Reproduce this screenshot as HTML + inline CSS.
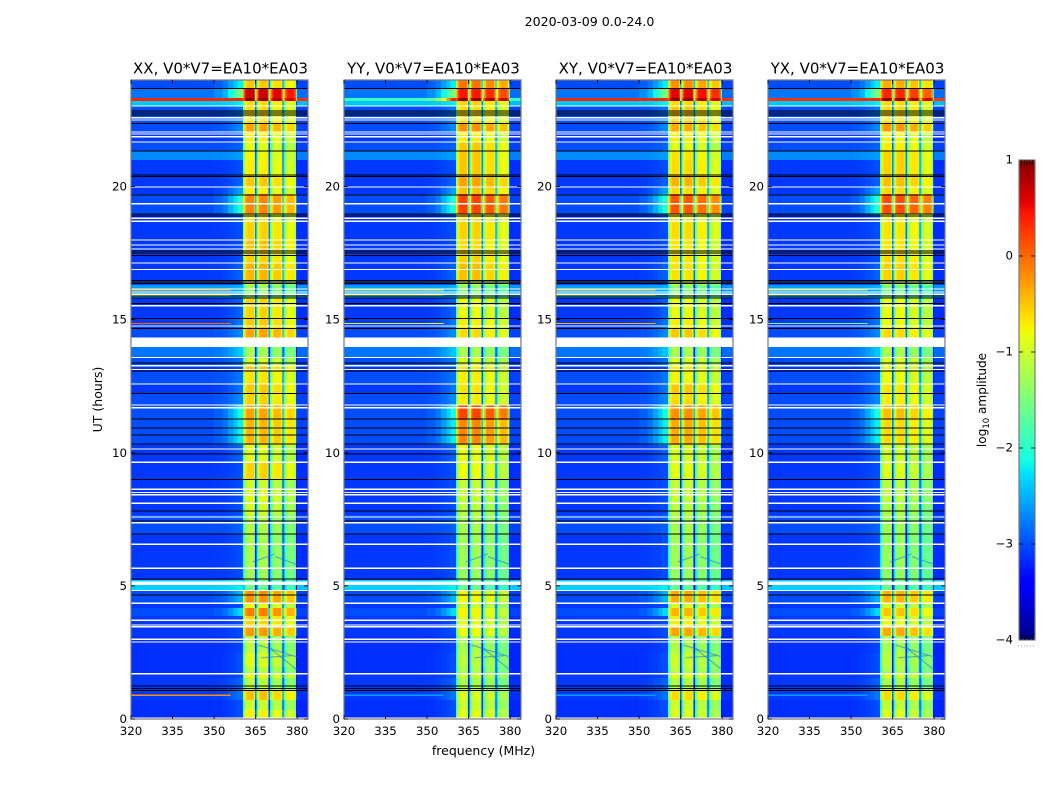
<!DOCTYPE html>
<html lang="en">
<head>
<meta charset="utf-8">
<title>2020-03-09 amplitude waterfall</title>
<style>
html,body{margin:0;padding:0;background:#fff;width:1050px;height:800px;overflow:hidden}
svg{display:block}
text{font-family:"DejaVu Sans","Liberation Sans",sans-serif;fill:#000}
</style>
</head>
<body>
<svg id="chart" xmlns="http://www.w3.org/2000/svg" width="1050" height="800" viewBox="0 0 1050 800">
<text x="589.5" y="26" font-size="12.6" text-anchor="middle">2020-03-09 0.0-24.0</text>
<text x="483.5" y="755" font-size="12.5" text-anchor="middle">frequency (MHz)</text>
<text transform="translate(102,399.5) rotate(-90)" font-size="12.5" text-anchor="middle">UT (hours)</text>
<text transform="translate(986,400) rotate(-90)" font-size="12.1" text-anchor="middle">log<tspan font-size="8.5" dy="3">10</tspan><tspan dy="-3"> amplitude</tspan></text>
</svg>
<script>
// ---------- data ----------
const panelTitles = ["XX, V0*V7=EA10*EA03","YY, V0*V7=EA10*EA03","XY, V0*V7=EA10*EA03","YX, V0*V7=EA10*EA03"];
const xTickValues = [320,335,350,365,380];
const yTickValues = [0,5,10,15,20];
const colorbarTickValues = [1,0,-1,-2,-3,-4];

// UT band edges (hours), top to bottom
const bandEdgesUT = [24,23.66,23.32,23.21,23.02,22.39,22.05,21.67,21.33,21.0,20.43,19.98,19.72,18.97,18.67,17.99,17.62,17.13,16.49,16.30,15.81,15.06,14.65,14.32,13.97,13.60,13.30,13.03,12.58,12.21,11.79,11.23,10.29,9.65,8.98,8.60,8.23,7.66,6.95,5.67,5.22,4.85,4.36,4.17,3.87,3.46,3.12,2.48,1.95,1.73,1.54,1.09,0.71,0.34,0];
// log10 amplitude outside the passband, per band
const offBandLevel = [-3.0,-2.8,0.35,-2.4,-3.0,-3.0,-3.1,-3.0,-2.7,-3.1,-3.1,-3.1,-3.0,-3.1,-3.1,-3.1,-3.1,-3.1,-3.0,-2.6,-3.1,-3.1,-3.0,-3.0,-2.8,-3.0,-3.1,-3.0,-3.1,-3.0,-3.0,-3.0,-3.1,-3.1,-3.1,-3.1,-3.1,-3.0,-3.1,-3.1,-2.35,-3.0,-3.1,-3.0,-3.1,-3.1,-3.15,-3.15,-3.15,-3.1,-3.1,-3.1,-3.15,-3.15];
// off-band level of the bright row near 23.3 h, per polarisation
const brightRowOffBand = [0.35,-1.9,0.35,0.3];
// log10 amplitude just below the passband edge, per band
const shoulderLevel = [-2.2,-1.5,0.35,-2.2,-2.8,-2.7,-3.0,-2.9,-2.6,-3.0,-2.9,-2.6,-2.0,-2.9,-3.0,-3.0,-3.0,-2.9,-3.0,-2.5,-2.9,-2.8,-2.7,-2.7,-2.4,-2.8,-3.0,-2.8,-2.8,-2.7,-2.1,-2.2,-2.9,-3.0,-3.0,-3.0,-3.0,-2.9,-3.0,-3.0,-2.2,-2.5,-3.0,-2.3,-3.0,-3.0,-3.05,-3.0,-3.0,-3.0,-2.9,-2.8,-3.0,-3.0];
// log10 amplitude in the passband, per band, per polarisation
const passbandXX = [-0.5,0.7,0.95,-0.6,-0.6,-0.3,-0.7,-0.85,-0.75,-0.7,-0.5,-0.7,-0.15,-0.7,-0.55,-0.45,-0.55,-0.4,-0.95,-1.3,-0.55,-0.5,-0.3,-0.3,-1.2,-0.9,-0.5,-0.65,-0.5,-0.55,-0.3,-0.4,-0.85,-0.55,-1.0,-0.85,-0.95,-1.15,-1.2,-1.25,-1.6,-0.2,-0.8,-0.1,-0.55,-0.25,-1.1,-0.9,-1.1,-0.75,-1.1,-0.45,-1.0,-0.7];
const passbandYY = [-0.05,0.45,0.95,-0.55,-0.6,-0.2,-0.7,-0.5,-0.5,-0.5,-0.3,-0.45,0.2,-0.6,-0.55,-0.6,-0.55,-0.45,-0.95,-1.4,-0.8,-0.7,-0.6,-0.6,-1.2,-0.9,-0.7,-0.7,-0.65,-0.7,0.2,-0.15,-0.8,-0.8,-1.05,-1.0,-1.1,-1.2,-1.25,-1.3,-1.6,-0.75,-1.0,-0.75,-0.85,-0.8,-1.2,-1.1,-1.2,-1.0,-1.2,-0.9,-1.0,-0.85];
const passbandXY = [-0.2,0.6,0.95,-0.6,-0.5,-0.35,-0.7,-0.85,-0.65,-0.6,-0.4,-0.6,0.1,-0.7,-0.6,-0.65,-0.65,-0.65,-0.95,-1.4,-0.8,-0.7,-0.5,-0.5,-1.2,-0.9,-0.7,-0.75,-0.5,-0.6,-0.2,-0.35,-0.9,-0.85,-1.05,-1.0,-1.1,-1.2,-1.25,-1.3,-1.6,-0.35,-0.9,-0.4,-0.7,-0.3,-1.15,-1.0,-1.1,-0.8,-1.15,-0.6,-1.0,-0.9];
const passbandYX = [-0.35,0.35,0.95,-0.6,-0.6,-0.25,-0.75,-0.7,-0.55,-0.55,-0.45,-0.6,0.15,-0.7,-0.65,-0.65,-0.6,-0.55,-1.0,-1.5,-0.8,-0.8,-0.6,-0.6,-1.2,-0.9,-0.8,-0.8,-0.65,-0.7,-0.45,-0.6,-0.95,-0.9,-1.1,-1.05,-1.15,-1.25,-1.3,-1.35,-1.6,-0.4,-0.95,-0.5,-0.8,-0.35,-1.2,-1.1,-1.2,-0.9,-1.2,-0.6,-1.05,-0.9];
// level change of each 5 MHz sub-band relative to the first, and of each channel within a sub-band
const subbandOffset = [0,0,-0.12,-0.28];
const channelOffset = [-0.9,-0.35,-0.1,0,0,0,0,0,-0.35,-2.2];
// how far each channel approaches the shoulder level, from 350 to 360 MHz
const shoulderChannelsMHz = [320,350,353,355,357,358.5,359.5];
const shoulderWeight = [0,0.1,0.25,0.5,0.75,1,1];

// flagged (blank) integrations, hours
const whiteFlagHours = [23.02,22.58,22.50,22.05,21.97,21.87,21.67,19.98,19.35,18.81,18.70,17.99,17.80,17.65,17.13,16.88,16.15,16.04,15.95,15.52,14.76,13.58,13.27,13.13,12.58,11.79,11.69,10.14,9.64,8.63,8.51,8.42,8.10,7.59,7.37,6.56,5.66,4.83,4.35,3.71,3.53,3.47,2.99,2.89,1.70,0.03];
const whiteBlockStart = [14.32,5.16];
const whiteBlockEnd = [13.97,5.03];
const blackFlagHours = [23.68,22.84,22.76,22.69,22.36,21.33,20.43,20.38,19.69,18.97,18.90,17.58,17.50,17.40,16.47,16.42,16.35,15.89,15.81,15.60,15.05,14.66,13.37,13.07,12.22,11.27,10.93,10.67,10.33,9.95,9.00,7.82,7.44,6.94,5.25,4.65,1.24,1.15,1.08];
// narrow interference rows across the off-band region
const rfiHours = [16.12,15.92,14.85,0.89];
const rfiXX = [-0.4,-0.8,0.0,-0.2];
const rfiYY = [-0.9,-1.0,-0.9,-2.6];
const rfiXY = [-0.6,-1.0,-0.4,-2.6];
const rfiYX = [-1.0,-1.3,-1.5,-2.6];
// faint absorption traces crossing the passband
const traceStartMHz = [366,370,364,367,372];
const traceEndMHz = [381,380,372,378,380];
const traceStartUT = [2.78,2.67,5.9,2.30,6.1];
const traceEndUT = [2.33,1.84,6.2,2.38,5.8];

// ---------- layout ----------
const axesLeft = [131,344,556,768];
const axesWidth = 177, axesTop = 80, axesBottom = 719;
const passbandLevels = [passbandXX,passbandYY,passbandXY,passbandYX];
const rfiLevels = [rfiXX,rfiYY,rfiXY,rfiYX];
const xMin = 320, xMax = 383.9, yMin = 0, yMax = 24;
const passStart = 360.4, subbandWidth = 4.9, passEnd = 380;
const brightRowIndex = 2;
const NS = "http://www.w3.org/2000/svg";
const svg = document.getElementById("chart");

function xScale(panel, mhz){ return axesLeft[panel] + (mhz - xMin) / (xMax - xMin) * axesWidth; }
function yScale(hour){ return axesBottom - (hour - yMin) / (yMax - yMin) * (axesBottom - axesTop); }
function interp(t, xs, ys){
  if (t <= xs[0]) return ys[0];
  for (let i = 1; i < xs.length; i++) {
    if (t <= xs[i]) return ys[i-1] + (ys[i]-ys[i-1]) * (t-xs[i-1]) / (xs[i]-xs[i-1]);
  }
  return ys[ys.length-1];
}
function jet(level){
  const t = Math.max(0, Math.min(1, (level + 4) / 5));
  const r = interp(t,[0,0.35,0.66,0.89,1],[0,0,1,1,0.5]);
  const g = interp(t,[0,0.125,0.375,0.64,0.91,1],[0,0,1,1,0,0]);
  const b = interp(t,[0,0.11,0.34,0.65,1],[0.5,1,1,0,0]);
  return "rgb(" + Math.round(r*255) + "," + Math.round(g*255) + "," + Math.round(b*255) + ")";
}
function cell(parent, x0, x1, y0, y1, fill){
  const r = document.createElementNS(NS, "rect");
  r.setAttribute("x", x0.toFixed(2));
  r.setAttribute("y", y0.toFixed(2));
  r.setAttribute("width", Math.max(0, x1 - x0).toFixed(2));
  r.setAttribute("height", Math.max(0, y1 - y0).toFixed(2));
  r.setAttribute("fill", fill);
  r.setAttribute("shape-rendering", "crispEdges");
  parent.appendChild(r);
  return r;
}
function line(parent, x1, y1, x2, y2, color, w){
  const l = document.createElementNS(NS, "line");
  l.setAttribute("x1", x1); l.setAttribute("y1", y1);
  l.setAttribute("x2", x2); l.setAttribute("y2", y2);
  l.setAttribute("stroke", color); l.setAttribute("stroke-width", w);
  parent.appendChild(l);
  return l;
}
function label(parent, x, y, str, size, anchor){
  const t = document.createElementNS(NS, "text");
  t.setAttribute("x", x); t.setAttribute("y", y);
  t.setAttribute("font-size", size);
  t.setAttribute("text-anchor", anchor);
  t.textContent = str;
  parent.appendChild(t);
  return t;
}

for (let p = 0; p < 4; p++) {
  const g = document.createElementNS(NS, "g");
  
  
  svg.appendChild(g);

  const levels = passbandLevels[p];
  for (let b = 0; b < levels.length; b++) {
    const y0 = yScale(bandEdgesUT[b]), y1 = yScale(bandEdgesUT[b+1]);
    const off = b === brightRowIndex ? brightRowOffBand[p] : offBandLevel[b];
    // off-band below the passband
    for (let c = 0; c < shoulderChannelsMHz.length; c++) {
      const f0 = shoulderChannelsMHz[c];
      const f1 = c + 1 < shoulderChannelsMHz.length ? shoulderChannelsMHz[c+1] : passStart;
      const v = off + shoulderWeight[c] * (shoulderLevel[b] - off);
      const r = cell(g, xScale(p,f0), xScale(p,f1), y0, y1, jet(v));
      
      
    }
    // passband channels
    for (let s = 0; s < subbandOffset.length; s++) {
      for (let c = 0; c < channelOffset.length; c++) {
        const step = subbandWidth / channelOffset.length;
        const f0 = passStart + s * subbandWidth + c * step;
        const v = levels[b] + subbandOffset[s] + channelOffset[c];
        const r = cell(g, xScale(p,f0), xScale(p,f0 + step), y0, y1, jet(v));
        
        
      }
    }
    // off-band above the passband
    const rr = cell(g, xScale(p,passEnd), xScale(p,xMax), y0, y1, jet(off - 0.05));
    
    
  }
  // absorption traces
  for (let i = 0; i < traceStartMHz.length; i++) {
    const tr = line(g, xScale(p,traceStartMHz[i]), yScale(traceStartUT[i]), Math.min(xScale(p,traceEndMHz[i]), xScale(p,passEnd)), yScale(traceEndUT[i]), "#1a78e0", 1.3);
    tr.setAttribute("stroke-opacity", "0.55");
    
    
  }
  // interference rows
  for (let i = 0; i < rfiHours.length; i++) {
    const yc = yScale(rfiHours[i]);
    const r = cell(g, xScale(p,320), xScale(p,356), yc - 0.6, yc + 0.6, jet(rfiLevels[p][i]));
    
    
  }
  // flagged rows
  for (let i = 0; i < whiteFlagHours.length; i++) {
    const yc = yScale(whiteFlagHours[i]);
    const r = cell(g, axesLeft[p], axesLeft[p] + axesWidth, yc - 0.65, yc + 0.65, "#fff");
    
    
  }
  for (let i = 0; i < whiteBlockStart.length; i++) {
    const r = cell(g, axesLeft[p], axesLeft[p] + axesWidth, yScale(whiteBlockStart[i]), yScale(whiteBlockEnd[i]), "#fff");
    
    
  }
  for (let i = 0; i < blackFlagHours.length; i++) {
    const yc = yScale(blackFlagHours[i]);
    const r = cell(g, axesLeft[p], axesLeft[p] + axesWidth, yc - 0.5, yc + 0.5, "#000");
    
    
  }

  // frame
  const frame = document.createElementNS(NS, "rect");
  frame.setAttribute("x", axesLeft[p]);
  frame.setAttribute("y", axesTop);
  frame.setAttribute("width", axesWidth);
  frame.setAttribute("height", axesBottom - axesTop);
  frame.setAttribute("fill", "none");
  frame.setAttribute("stroke", "#777");
  frame.setAttribute("stroke-width", "1.2");
  
  
  g.appendChild(frame);

  // x ticks
  for (let i = 0; i < xTickValues.length; i++) {
    const x = xScale(p, xTickValues[i]);
    const tk = line(g, x, axesBottom, x, axesBottom - 4, "#000", 0.8);
    
    
    const tk2 = line(g, x, axesTop, x, axesTop + 4, "#000", 0.8);
    
    
    const tl = label(g, x, 735, String(xTickValues[i]), 11.8, "middle");
    
    
  }
  // y ticks
  for (let i = 0; i < yTickValues.length; i++) {
    const y = yScale(yTickValues[i]);
    const tk = line(g, axesLeft[p], y, axesLeft[p] + 4, y, "#000", 0.8);
    
    
    const tk2 = line(g, axesLeft[p] + axesWidth, y, axesLeft[p] + axesWidth - 4, y, "#000", 0.8);
    
    
    const tl = label(g, axesLeft[p] - 4, y + 4, String(yTickValues[i]), 11.8, "end");
    
    
  }
  // title
  const title = label(g, axesLeft[p] + axesWidth / 2 + 1, 73.5, panelTitles[p], 15, "middle");
  
  
}

// ---------- colorbar ----------
const cbLeft = 1019, cbRight = 1035, cbTop = 160, cbBottom = 640, cbMax = 1, cbMin = -4;
function cbScale(level){ return cbBottom - (level - cbMin) / (cbMax - cbMin) * (cbBottom - cbTop); }
const cb = document.createElementNS(NS, "g");


svg.appendChild(cb);
for (let py = cbTop; py < cbBottom; py += 2) {
  const lv = cbMax - (py + 1 - cbTop) / (cbBottom - cbTop) * (cbMax - cbMin);
  const r = cell(cb, cbLeft, cbRight, py, py + 2, jet(lv));
  
  
}
const cbFrame = document.createElementNS(NS, "rect");
cbFrame.setAttribute("x", cbLeft);
cbFrame.setAttribute("y", cbTop);
cbFrame.setAttribute("width", cbRight - cbLeft);
cbFrame.setAttribute("height", cbBottom - cbTop);
cbFrame.setAttribute("fill", "none");
cbFrame.setAttribute("stroke", "#777");
cbFrame.setAttribute("stroke-width", "1.2");


cb.appendChild(cbFrame);
for (let i = 0; i < colorbarTickValues.length; i++) {
  const v = colorbarTickValues[i];
  const y = cbScale(v);
  if (v !== cbMax && v !== cbMin) {
    const a = line(cb, cbLeft, y, cbLeft + 4, y, "#000", 0.8);
    
    
    const c = line(cb, cbRight - 4, y, cbRight, y, "#000", 0.8);
    
    
  } else {
    for (let k = 0; k < 5; k++) {
      const cx = cbLeft + 2.7 * (k + 1);
      const dir = v === cbMax ? 5 : -5;
      const c = line(cb, cx, y, cx, y + dir, "#000", 0.7);
      
      
    }
  }
  const txt = v < 0 ? "\u2212" + Math.abs(v) : String(v);
  const tl = label(cb, 1013, y + 3.5, txt, 11.8, "end");
  
  
}
const dots = line(cb, 1018, 646, 1035, 646, "#999", 1);
dots.setAttribute("stroke-dasharray", "1 2");


</script>
</body>
</html>
